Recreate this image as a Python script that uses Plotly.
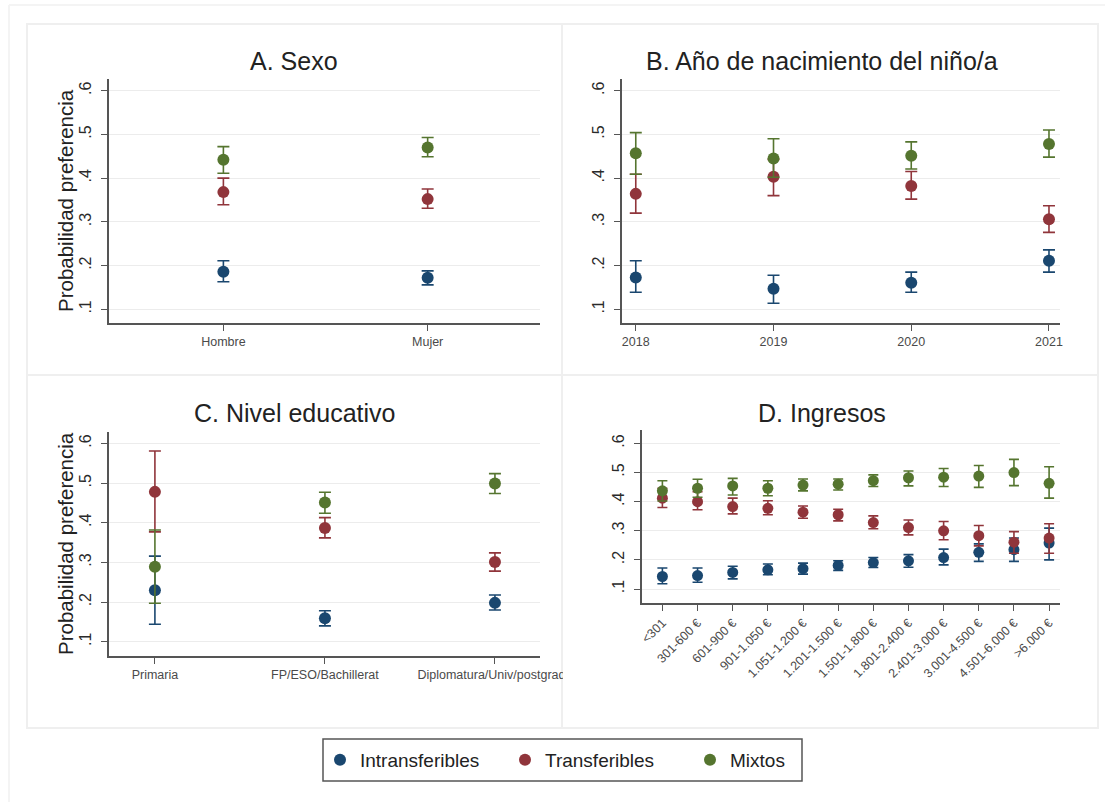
import plotly.graph_objects as go

# ---- data -------------------------------------------------------------
series_names = ["Intransferibles", "Transferibles", "Mixtos"]
series_colors = ["#1a476f", "#90353b", "#55752f"]

y_tick_vals = [0.1, 0.2, 0.3, 0.4, 0.5, 0.6]
y_tick_labels = [".1", ".2", ".3", ".4", ".5", ".6"]

# A. Sexo
sexo_cats = ["Hombre", "Mujer"]
sexo_intrans = [0.186, 0.172]
sexo_intrans_lo = [0.163, 0.156]
sexo_intrans_hi = [0.211, 0.188]
sexo_trans = [0.368, 0.352]
sexo_trans_lo = [0.339, 0.331]
sexo_trans_hi = [0.400, 0.375]
sexo_mixtos = [0.442, 0.470]
sexo_mixtos_lo = [0.411, 0.449]
sexo_mixtos_hi = [0.472, 0.493]

# B. Año de nacimiento
anios = [2018, 2019, 2020, 2021]
anio_intrans = [0.173, 0.147, 0.161, 0.211]
anio_intrans_lo = [0.139, 0.114, 0.139, 0.185]
anio_intrans_hi = [0.211, 0.178, 0.185, 0.236]
anio_trans = [0.364, 0.403, 0.382, 0.306]
anio_trans_lo = [0.320, 0.360, 0.352, 0.276]
anio_trans_hi = [0.409, 0.443, 0.415, 0.337]
anio_mixtos = [0.457, 0.445, 0.451, 0.478]
anio_mixtos_lo = [0.409, 0.402, 0.421, 0.448]
anio_mixtos_hi = [0.504, 0.490, 0.483, 0.510]

# C. Nivel educativo
educ_cats = ["Primaria", "FP/ESO/Bachillerat", "Diplomatura/Univ/postgrado"]
educ_intrans = [0.230, 0.159, 0.198]
educ_intrans_lo = [0.144, 0.140, 0.180]
educ_intrans_hi = [0.316, 0.178, 0.218]
educ_trans = [0.478, 0.387, 0.301]
educ_trans_lo = [0.377, 0.362, 0.278]
educ_trans_hi = [0.581, 0.413, 0.324]
educ_mixtos = [0.289, 0.451, 0.499]
educ_mixtos_lo = [0.197, 0.424, 0.474]
educ_mixtos_hi = [0.382, 0.477, 0.524]

# D. Ingresos
ingreso_cats = ["<301", "301-600 €", "601-900 €", "901-1.050 €", "1.051-1.200 €",
                "1.201-1.500 €", "1.501-1.800 €", "1.801-2.400 €", "2.401-3.000 €",
                "3.001-4.500 €", "4.501-6.000 €", ">6.000 €"]
ing_intrans = [0.143, 0.146, 0.157, 0.166, 0.170, 0.181, 0.191, 0.197, 0.208, 0.226, 0.235, 0.258]
ing_intrans_lo = [0.118, 0.123, 0.135, 0.149, 0.151, 0.164, 0.174, 0.175, 0.183, 0.195, 0.195, 0.200]
ing_intrans_hi = [0.172, 0.172, 0.178, 0.186, 0.189, 0.197, 0.208, 0.218, 0.237, 0.255, 0.275, 0.309]
ing_trans = [0.412, 0.400, 0.383, 0.377, 0.364, 0.355, 0.328, 0.311, 0.300, 0.283, 0.261, 0.275]
ing_trans_lo = [0.380, 0.372, 0.358, 0.355, 0.343, 0.334, 0.307, 0.286, 0.269, 0.248, 0.223, 0.223]
ing_trans_hi = [0.446, 0.434, 0.412, 0.403, 0.385, 0.374, 0.351, 0.337, 0.332, 0.318, 0.297, 0.324]
ing_mixtos = [0.437, 0.446, 0.454, 0.446, 0.457, 0.460, 0.472, 0.482, 0.484, 0.488, 0.500, 0.463]
ing_mixtos_lo = [0.402, 0.415, 0.423, 0.420, 0.437, 0.440, 0.452, 0.454, 0.452, 0.449, 0.455, 0.412]
ing_mixtos_hi = [0.472, 0.477, 0.480, 0.472, 0.478, 0.478, 0.492, 0.505, 0.514, 0.524, 0.545, 0.520]

# ---- page geometry (pixels) ------------------------------------------
W, H = 1105, 802


def px_x(v):
    return v / W


def px_y(v):
    return 1 - v / H


FONT = "Liberation Sans, Arial, sans-serif"

panels = [
    dict(name="A. Sexo", xs=[1, 2], ticktext=sexo_cats,
         xrange=[0.44, 2.55], yrange=[0.0687, 0.6267],
         box=(109, 540, 79, 323), title_xy=(294, 61), ytitle=True, tickangle=0,
         marker=12, cap=6,
         series=[(sexo_intrans, sexo_intrans_lo, sexo_intrans_hi),
                 (sexo_trans, sexo_trans_lo, sexo_trans_hi),
                 (sexo_mixtos, sexo_mixtos_lo, sexo_mixtos_hi)]),
    dict(name="B. Año de nacimiento del niño/a", xs=anios, ticktext=[str(a) for a in anios],
         xrange=[2017.9, 2021.08], yrange=[0.0687, 0.6267],
         box=(622, 1060, 79, 323), title_xy=(822, 61), ytitle=False, tickangle=0,
         marker=12, cap=6,
         series=[(anio_intrans, anio_intrans_lo, anio_intrans_hi),
                 (anio_trans, anio_trans_lo, anio_trans_hi),
                 (anio_mixtos, anio_mixtos_lo, anio_mixtos_hi)]),
    dict(name="C. Nivel educativo", xs=[1, 2, 3], ticktext=educ_cats,
         xrange=[0.73, 3.265], yrange=[0.064, 0.629],
         box=(109, 540, 432, 656), title_xy=(294, 413), ytitle=True, tickangle=0,
         marker=12, cap=6,
         series=[(educ_intrans, educ_intrans_lo, educ_intrans_hi),
                 (educ_trans, educ_trans_lo, educ_trans_hi),
                 (educ_mixtos, educ_mixtos_lo, educ_mixtos_hi)]),
    dict(name="D. Ingresos", xs=list(range(1, len(ingreso_cats) + 1)), ticktext=ingreso_cats,
         xrange=[0.42, 12.31], yrange=[0.052, 0.646],
         box=(642, 1060, 430, 603), title_xy=(822, 413), ytitle=False, tickangle=-45,
         marker=11, cap=5,
         series=[(ing_intrans, ing_intrans_lo, ing_intrans_hi),
                 (ing_trans, ing_trans_lo, ing_trans_hi),
                 (ing_mixtos, ing_mixtos_lo, ing_mixtos_hi)]),
]

fig = go.Figure()
layout = dict(
    template="none",
    width=W, height=H, autosize=False,
    margin=dict(l=0, r=0, t=0, b=0, pad=0, autoexpand=False),
    paper_bgcolor="white", plot_bgcolor="white",
    font=dict(family=FONT, color="#222222"),
    showlegend=True,
    legend=dict(orientation="h", x=px_x(320), y=px_y(760), xanchor="left", yanchor="middle",
                borderwidth=0, bgcolor="rgba(0,0,0,0)",
                font=dict(size=19, color="#222222"), entrywidth=140, entrywidthmode="pixels"),
)
annotations = []
shapes = []

for i, p in enumerate(panels):
    k = "" if i == 0 else str(i + 1)
    x0, x1, y0, y1 = p["box"]
    layout["xaxis" + k] = dict(
        domain=[px_x(x0), px_x(x1)], range=p["xrange"], anchor="y" + k, automargin=False,
        tickmode="array", tickvals=p["xs"], ticktext=p["ticktext"],
        tickangle=p["tickangle"], ticks="outside", ticklen=6, tickwidth=1.3, tickcolor="#555555",
        showline=True, linecolor="#555555", linewidth=1.5, showgrid=False, zeroline=False,
        tickfont=dict(size=12.5, color="#4a4a4a"), fixedrange=True,
    )
    layout["yaxis" + k] = dict(
        domain=[px_y(y1), px_y(y0)], range=p["yrange"], anchor="x" + k, automargin=False,
        tickmode="array", tickvals=y_tick_vals, ticktext=y_tick_labels,
        tickangle=-90, ticks="outside", ticklen=6, tickwidth=1.3, tickcolor="#555555",
        showline=True, linecolor="#555555", linewidth=1.5,
        showgrid=True, gridcolor="#ececec", gridwidth=1, zeroline=False,
        tickfont=dict(size=16, color="#2a2a2a"), ticklabelstandoff=4, fixedrange=True,
    )
    tx, ty = p["title_xy"]
    annotations.append(dict(text=p["name"], x=px_x(tx), y=px_y(ty), xref="paper", yref="paper",
                            showarrow=False, xanchor="center", yanchor="middle",
                            font=dict(size=25, color="#222222")))
    if p["ytitle"]:
        annotations.append(dict(text="Probabilidad preferencia", x=px_x(65), y=px_y((y0 + y1) / 2),
                                xref="paper", yref="paper", showarrow=False, textangle=-90,
                                xanchor="center", yanchor="middle",
                                font=dict(size=20.5, color="#222222")))
    for j, (est, lo, hi) in enumerate(p["series"]):
        fig.add_trace(go.Scatter(
            x=p["xs"], y=est, mode="markers", name=series_names[j],
            legendgroup=series_names[j], showlegend=(i == 0),
            marker=dict(color=series_colors[j], size=p["marker"], line=dict(width=0)),
            error_y=dict(type="data", symmetric=False,
                         array=[h - e for h, e in zip(hi, est)],
                         arrayminus=[e - l for e, l in zip(est, lo)],
                         color=series_colors[j], thickness=1.6, width=p["cap"]),
            xaxis="x" + k, yaxis="y" + k, hoverinfo="skip",
        ))

# faint frames around the combined panels
frame = "#efefef"
shapes.append(dict(type="rect", xref="paper", yref="paper", x0=px_x(27), x1=px_x(1098),
                   y0=px_y(728), y1=px_y(24), line=dict(color=frame, width=2), layer="below"))
shapes.append(dict(type="line", xref="paper", yref="paper", x0=px_x(562), x1=px_x(562),
                   y0=px_y(728), y1=px_y(24), line=dict(color=frame, width=2), layer="below"))
shapes.append(dict(type="line", xref="paper", yref="paper", x0=px_x(27), x1=px_x(1098),
                   y0=px_y(375), y1=px_y(375), line=dict(color=frame, width=2), layer="below"))
shapes.append(dict(type="line", xref="paper", yref="paper", x0=px_x(9), x1=px_x(9),
                   y0=0, y1=px_y(5), line=dict(color="#f4f4f4", width=2), layer="below"))
shapes.append(dict(type="line", xref="paper", yref="paper", x0=px_x(9), x1=1,
                   y0=px_y(5), y1=px_y(5), line=dict(color="#f4f4f4", width=2), layer="below"))
# legend frame
shapes.append(dict(type="rect", xref="paper", yref="paper", x0=px_x(323), x1=px_x(802),
                   y0=px_y(781), y1=px_y(739), line=dict(color="#555555", width=1.5),
                   fillcolor="rgba(0,0,0,0)", layer="below"))
# the right panel clips the long education label at its border
shapes.append(dict(type="rect", xref="paper", yref="paper", x0=px_x(563), x1=px_x(600),
                   y0=px_y(695), y1=px_y(662), fillcolor="white", line=dict(width=0), layer="above"))

layout["annotations"] = annotations
layout["shapes"] = shapes
fig.update_layout(**layout)
fig.write_html("out.html")
